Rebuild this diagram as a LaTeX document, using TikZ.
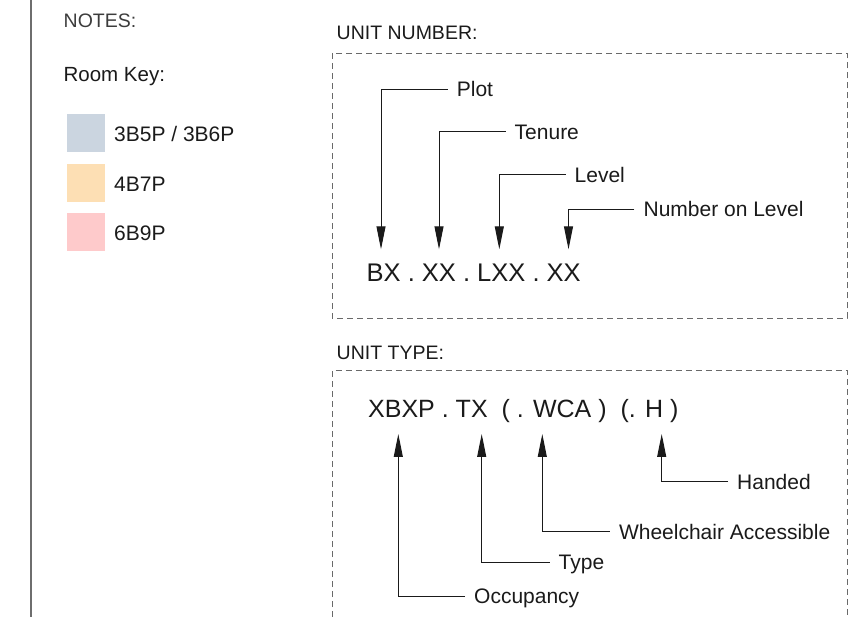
\documentclass[tikz,border=0pt]{standalone}
\usepackage{fontspec}
\setmainfont{Liberation Sans}
\usetikzlibrary{arrows.meta}
\definecolor{keyblue}{RGB}{203,213,224}
\definecolor{keyorange}{RGB}{253,223,180}
\definecolor{keypink}{RGB}{254,202,203}
\definecolor{dashgray}{RGB}{105,105,105}
\definecolor{rulegray}{RGB}{110,110,110}
\definecolor{ink}{RGB}{26,26,26}
\begin{document}
\begin{tikzpicture}[x=1pt,y=-1pt,
  lbl/.style={anchor=west,inner xsep=9pt,inner ysep=0pt,text height=15pt,text depth=0pt,
    font=\fontsize{21}{24}\selectfont,text=ink},
  code/.style={anchor=base west,inner sep=0pt,font=\fontsize{25.5}{30}\selectfont,text=ink},
  head/.style={anchor=base west,inner sep=0pt,font=\fontsize{19.5}{23}\selectfont,text=ink},
  keytext/.style={anchor=base west,inner sep=0pt,font=\fontsize{21}{24}\selectfont,text=ink},
  keybox/.style={minimum size=38pt,inner sep=0pt,anchor=north west},
  leader/.style={line width=1pt,draw=ink,-{Triangle[length=23pt,width=9pt]}},
  dashbox/.style={draw=dashgray,line width=1pt,dash pattern=on 6pt off 4pt}]
\useasboundingbox (0,0) rectangle (860,617);
\draw[line width=1.8pt,rulegray](31,0)--(31,617);
% notes and room key
\node[head,text=ink!85] (notes) at (63.5,27.7) {NOTES:};
\node[keytext,font=\fontsize{20.5}{24}\selectfont] (roomkey) at (63.4,81.7) {Room Key:};
\node[keybox,fill=keyblue] (keyA) at (67,114) {};
\node[keybox,fill=keyorange] (keyB) at (67,163.5) {};
\node[keybox,fill=keypink] (keyC) at (67,213) {};
\node[keytext] (txtA) at (114,141.7) {3B5P / 3B6P};
\node[keytext] (txtB) at (114,191.7) {4B7P};
\node[keytext] (txtC) at (114,240.7) {6B9P};
% unit number
\node[head] (unitnum) at (336.5,40) {UNIT NUMBER:};
\draw[dashbox](332,53.3) rectangle (847,318.3);
\node[code] (numcode) at (366.5,281.7) {BX . XX . LXX . XX};
\foreach \nm/\ax/\lx/\ly/\txt in {plot/381/447.7/89.3/Plot, tenure/439/505.5/131.7/Tenure,
    level/499.3/565.5/175/Level, number/568.5/634.4/209.3/Number on Level}{
  \coordinate (\nm tip) at (\ax,249.3);
  \node[lbl] (\nm) at (\lx,\ly) {\txt};
  \draw[leader](\nm.west) -| (\nm tip);
}
% unit type
\node[head] (unittype) at (336.5,360) {UNIT TYPE:};
\draw[dashbox](332,617)--(332,370.7)--(847,370.7)--(847,617);
\node[code,font=\fontsize{25}{30}\selectfont] (typecode) at (368,417.3) {XBXP . TX\ \ ( . WCA ) \ (. H )};
\foreach \nm/\ax/\lx/\ly/\txt in {handed/661.7/728/481.7/Handed, wca/542.3/609.8/531.7/Wheelchair Accessible,
    type/481.7/549.5/562.3/Type, occ/398.3/465/596/Occupancy}{
  \coordinate (\nm tip) at (\ax,434);
  \node[lbl] (\nm) at (\lx,\ly) {\txt};
  \draw[leader](\nm.west) -| (\nm tip);
}
\end{tikzpicture}
\end{document}
